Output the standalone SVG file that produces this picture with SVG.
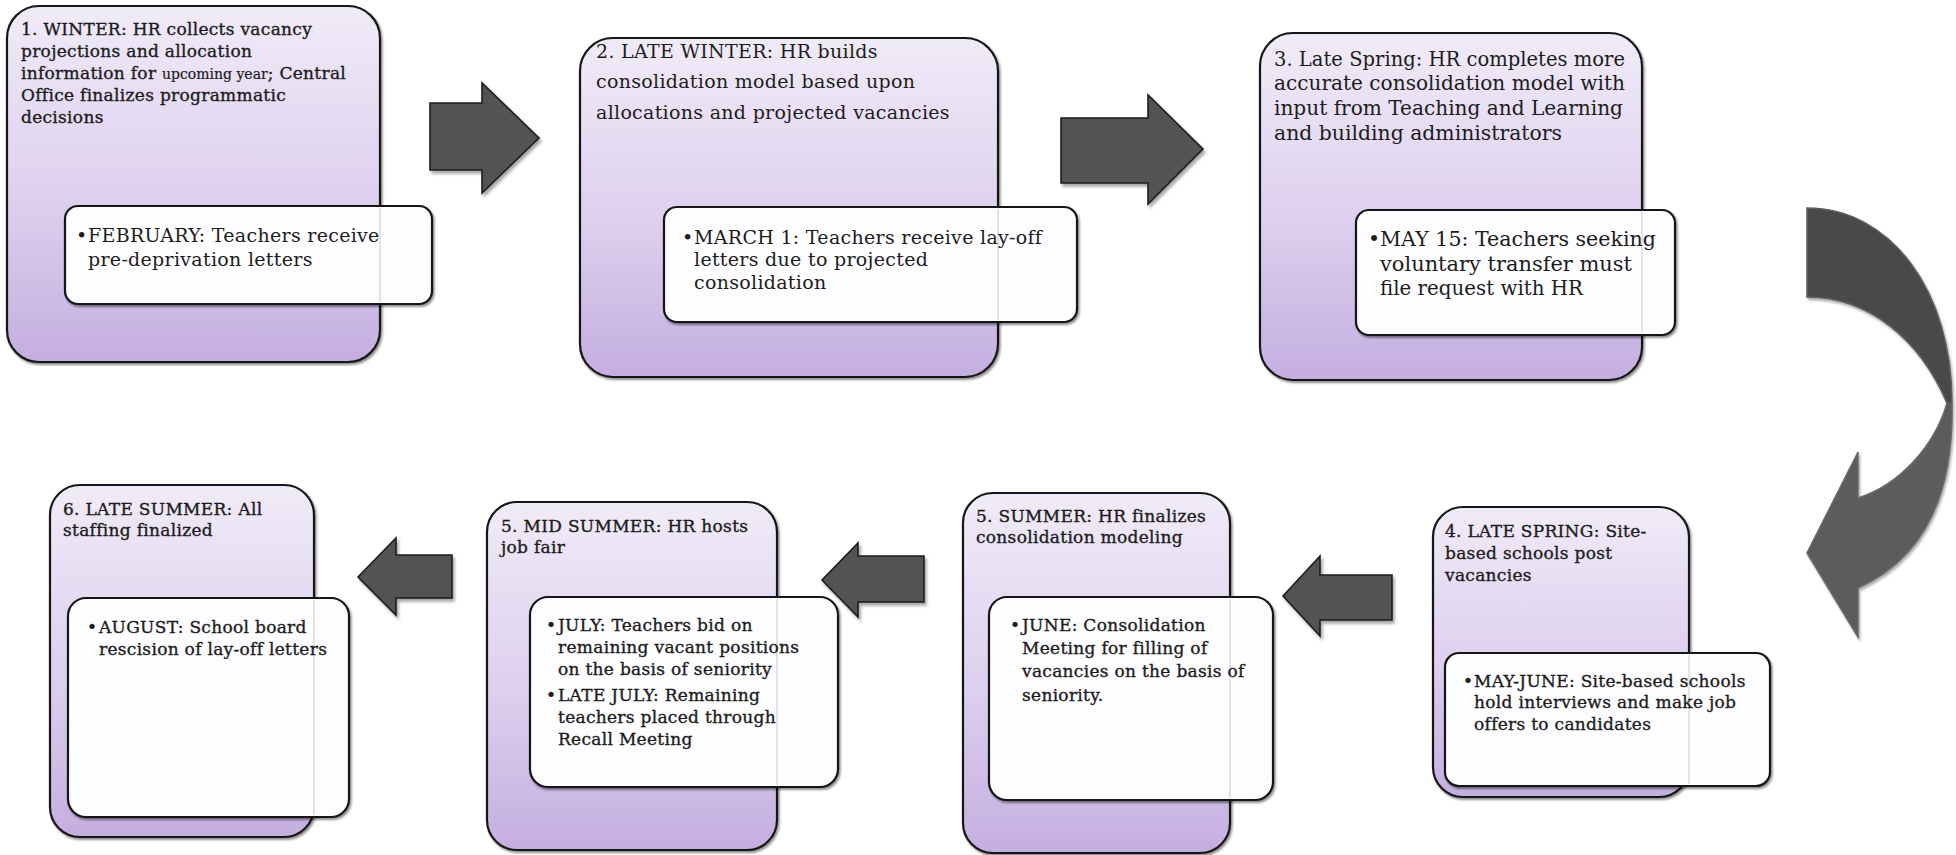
<svg xmlns="http://www.w3.org/2000/svg" width="1956" height="855" viewBox="0 0 1956 855">
  <defs>
    <linearGradient id="lav" x1="0" y1="0" x2="0" y2="1">
      <stop offset="0" stop-color="#f0ebf8"/>
      <stop offset="0.55" stop-color="#ddcfee"/>
      <stop offset="1" stop-color="#c4aee0"/>
    </linearGradient>
    <filter id="sh" x="-5%" y="-5%" width="112%" height="112%">
      <feDropShadow dx="1.5" dy="2" stdDeviation="1.2" flood-color="#000" flood-opacity="0.45"/>
    </filter>
    <filter id="ash" x="-10%" y="-10%" width="125%" height="125%">
      <feDropShadow dx="2" dy="3" stdDeviation="1.5" flood-color="#000" flood-opacity="0.35"/>
    </filter>
    <filter id="csh" x="-10%" y="-5%" width="125%" height="115%">
      <feDropShadow dx="1.5" dy="2.5" stdDeviation="1.2" flood-color="#9a9a9a" flood-opacity="0.8"/>
    </filter>
    <style>
      .box { fill: url(#lav); stroke: #161616; stroke-width: 2.2; filter: url(#sh); }
      .sub { fill: #fdfcff; stroke: #161616; stroke-width: 2.2; filter: url(#sh); }
      .seam { stroke: #000; stroke-opacity: 0.1; stroke-width: 2; }
      .arw { fill: #525252; stroke: #1e1e1e; stroke-width: 1.6; stroke-linejoin: miter; filter: url(#ash); }
      text { font-family: "DejaVu Serif", "Liberation Serif", serif; fill: #1c1c1c; }
      .r { font-size: 19px; letter-spacing: 0.3px; }
      .c { font-size: 20.5px; }
      .m { font-size: 17px; letter-spacing: 0.3px; stroke: #1c1c1c; stroke-width: 0.35px; }
      .s { font-size: 14px; letter-spacing: 0; stroke-width: 0.2px; }
    </style>
  </defs>
  <rect width="1956" height="855" fill="#ffffff"/>

  <!-- flow arrows between the stages -->
  <g id="connectors">
    <polygon class="arw" points="430,103 482,103 482,83 539,138 482,193 482,170 430,170"/>
    <polygon class="arw" points="1061,118 1148,118 1148,95 1203,149 1148,204 1148,183 1061,183"/>
    <g id="curved-arrow" filter="url(#csh)">
      <path d="M1858,498 C1900,485 1935,445 1947,403 L1952,403 C1954,500 1920,560 1858,588 L1858,637 L1807,553 L1858,452 Z" fill="#5b5b5b" stroke="#6a6a6a" stroke-width="1.5"/>
      <path d="M1807,208 C1890,208 1952,290 1952,403 L1947,403 C1920,340 1870,297 1807,297 Z" fill="#4a4a4a" stroke="#5e5e5e" stroke-width="1.5"/>
    </g>
    <polygon class="arw" points="1392,575 1320,575 1320,556 1283,596 1320,636 1320,620 1392,620"/>
    <polygon class="arw" points="924,556 858,556 858,543 822,580 858,617 858,602 924,602"/>
    <polygon class="arw" points="452,555 396,555 396,538 358,577 396,615 396,598 452,598"/>
  </g>

  <!-- 1. Winter -->
  <g id="stage1">
    <rect class="box" x="7" y="6" width="373" height="356" rx="32"/>
    <text class="m" x="21" y="35">1. WINTER: HR collects vacancy</text>
    <text class="m" x="21" y="57">projections and allocation</text>
    <text class="m" x="21" y="79">information for <tspan class="s">upcoming year</tspan>; Central</text>
    <text class="m" x="21" y="101">Office finalizes programmatic</text>
    <text class="m" x="21" y="123">decisions</text>
    <rect class="sub" x="65" y="206" width="367" height="98" rx="13"/>
    <line class="seam" x1="380" y1="208" x2="380" y2="302"/>
    <text class="r" x="76" y="242">•</text>
    <text class="r" x="88" y="242">FEBRUARY: Teachers receive</text>
    <text class="r" x="88" y="266">pre-deprivation letters</text>
  </g>

  <!-- 2. Late winter -->
  <g id="stage2">
    <rect class="box" x="580" y="38" width="418" height="339" rx="33"/>
    <text class="r" x="596" y="58">2. LATE WINTER: HR builds</text>
    <text class="r" x="596" y="88">consolidation model based upon</text>
    <text class="r" x="596" y="119">allocations and projected vacancies</text>
    <rect class="sub" x="664" y="207" width="413" height="115" rx="13"/>
    <line class="seam" x1="998" y1="209" x2="998" y2="320"/>
    <text class="r" x="682" y="244">•</text>
    <text class="r" x="694" y="244">MARCH 1: Teachers receive lay-off</text>
    <text class="r" x="694" y="266">letters due to projected</text>
    <text class="r" x="694" y="289">consolidation</text>
  </g>

  <!-- 3. Late spring (HR model) -->
  <g id="stage3">
    <rect class="box" x="1260" y="33" width="382" height="347" rx="33"/>
    <text class="c" x="1274" y="66" textLength="351" lengthAdjust="spacingAndGlyphs">3. Late Spring: HR completes more</text>
    <text class="c" x="1274" y="90" textLength="351" lengthAdjust="spacingAndGlyphs">accurate consolidation model with</text>
    <text class="c" x="1274" y="115" textLength="349" lengthAdjust="spacingAndGlyphs">input from Teaching and Learning</text>
    <text class="c" x="1274" y="140" textLength="288" lengthAdjust="spacingAndGlyphs">and building administrators</text>
    <rect class="sub" x="1356" y="210" width="319" height="125" rx="13"/>
    <line class="seam" x1="1642" y1="212" x2="1642" y2="333"/>
    <text class="c" x="1368" y="246">•</text>
    <text class="c" x="1380" y="246" textLength="276" lengthAdjust="spacingAndGlyphs">MAY 15: Teachers seeking</text>
    <text class="c" x="1380" y="271" textLength="252" lengthAdjust="spacingAndGlyphs">voluntary transfer must</text>
    <text class="c" x="1380" y="295" textLength="203" lengthAdjust="spacingAndGlyphs">file request with HR</text>
  </g>

  <!-- 4. Late spring (site-based) -->
  <g id="stage4">
    <rect class="box" x="1433" y="507" width="256" height="290" rx="30"/>
    <text class="m" x="1445" y="537">4. LATE SPRING: Site-</text>
    <text class="m" x="1445" y="559">based schools post</text>
    <text class="m" x="1445" y="581">vacancies</text>
    <rect class="sub" x="1445" y="653" width="325" height="133" rx="14"/>
    <line class="seam" x1="1689" y1="655" x2="1689" y2="784"/>
    <text class="m" x="1463" y="687">•</text>
    <text class="m" x="1474" y="687">MAY-JUNE: Site-based schools</text>
    <text class="m" x="1474" y="708">hold interviews and make job</text>
    <text class="m" x="1474" y="730">offers to candidates</text>
  </g>

  <!-- 5. Summer -->
  <g id="stage5-summer">
    <rect class="box" x="963" y="493" width="267" height="360" rx="30"/>
    <text class="m" x="976" y="522">5. SUMMER: HR finalizes</text>
    <text class="m" x="976" y="543">consolidation modeling</text>
    <rect class="sub" x="989" y="597" width="284" height="203" rx="18"/>
    <line class="seam" x1="1230" y1="599" x2="1230" y2="798"/>
    <text class="m" x="1010" y="631">•</text>
    <text class="m" x="1022" y="631">JUNE: Consolidation</text>
    <text class="m" x="1022" y="654">Meeting for filling of</text>
    <text class="m" x="1022" y="677">vacancies on the basis of</text>
    <text class="m" x="1022" y="701">seniority.</text>
  </g>

  <!-- 5. Mid summer -->
  <g id="stage5-midsummer">
    <rect class="box" x="487" y="502" width="290" height="348" rx="30"/>
    <text class="m" x="501" y="532">5. MID SUMMER: HR hosts</text>
    <text class="m" x="501" y="553">job fair</text>
    <rect class="sub" x="530" y="597" width="308" height="190" rx="18"/>
    <line class="seam" x1="777" y1="599" x2="777" y2="785"/>
    <text class="m" x="546" y="631">•</text>
    <text class="m" x="558" y="631">JULY: Teachers bid on</text>
    <text class="m" x="558" y="653">remaining vacant positions</text>
    <text class="m" x="558" y="675">on the basis of seniority</text>
    <text class="m" x="546" y="701">•</text>
    <text class="m" x="558" y="701">LATE JULY: Remaining</text>
    <text class="m" x="558" y="723">teachers placed through</text>
    <text class="m" x="558" y="745">Recall Meeting</text>
  </g>

  <!-- 6. Late summer -->
  <g id="stage6">
    <rect class="box" x="50" y="485" width="264" height="352" rx="30"/>
    <text class="m" x="63" y="515">6. LATE SUMMER: All</text>
    <text class="m" x="63" y="536">staffing finalized</text>
    <rect class="sub" x="68" y="598" width="281" height="219" rx="18"/>
    <line class="seam" x1="314" y1="600" x2="314" y2="815"/>
    <text class="m" x="87" y="633">•</text>
    <text class="m" x="99" y="633">AUGUST: School board</text>
    <text class="m" x="99" y="655">rescision of lay-off letters</text>
  </g>
</svg>
